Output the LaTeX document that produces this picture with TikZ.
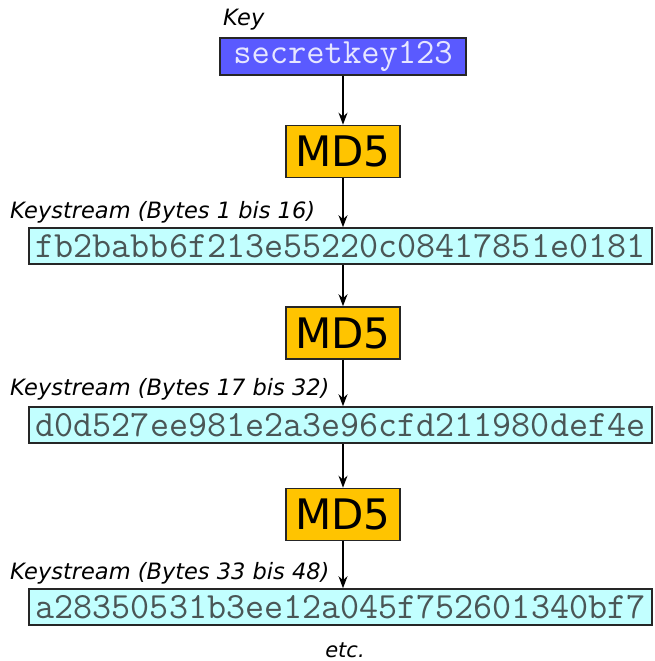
\documentclass[tikz,border=0pt]{standalone}
\usepackage{fontspec}
\setmainfont{DejaVu Sans}
\usetikzlibrary{arrows.meta}
\definecolor{keyblue}{HTML}{5A5AFF}
\definecolor{keytext}{HTML}{E6E6FF}
\definecolor{mdorange}{HTML}{FFC400}
\definecolor{streamcyan}{HTML}{C2FFFF}
\definecolor{streamtext}{HTML}{4A5656}
\begin{document}
\begin{tikzpicture}[x=1pt,y=-1pt,
  keybox/.style={draw=black!85, line width=1.6pt, fill=keyblue, text=keytext, font=\ttfamily\fontsize{35.5}{35.5}\selectfont, minimum width=246pt, minimum height=37pt, inner sep=0pt},
  mdbox/.style={draw=black!85, line width=1.6pt, fill=mdorange, font=\fontsize{42}{42}\selectfont, minimum width=114pt, minimum height=52pt, inner sep=0pt},
  streambox/.style={draw=black!85, line width=1.6pt, fill=streamcyan, text=streamtext, font=\ttfamily\fontsize{37}{37}\selectfont, minimum width=623pt, minimum height=36pt, inner sep=0pt},
  lab/.style={font=\itshape\fontsize{22.5}{22.5}\selectfont, inner sep=0pt, anchor=west},
  conn/.style={draw=black, line width=1.3pt, -{Stealth[length=12pt,width=9pt]}}
]
\useasboundingbox (0,0) rectangle (654,661);
\node[keybox] (key) at (343,56.5) {secretkey123};
\node[lab] (keylab) at (223,20) {Key};
\node[mdbox] (md1) at (343,151.5) {MD5};
\node[lab] (l1) at (10,212) {Keystream (Bytes 1 bis 16)};
\node[streambox] (s1) at (340.5,246) {fb2babb6f213e55220c08417851e0181};
\node[mdbox] (md2) at (343,333) {MD5};
\node[lab] (l2) at (10,389) {Keystream (Bytes 17 bis 32)};
\node[streambox] (s2) at (340.5,425) {d0d527ee981e2a3e96cfd211980def4e};
\node[mdbox] (md3) at (343,514.5) {MD5};
\node[lab] (l3) at (10,573) {Keystream (Bytes 33 bis 48)};
\node[streambox] (s3) at (340.5,607) {a28350531b3ee12a045f752601340bf7};
\node[font=\itshape\fontsize{21}{21}\selectfont, inner sep=0pt, anchor=base] (etc) at (345,657) {etc.};
\draw[conn] (key.south) -- (md1.north);
\draw[conn] (md1.south) -- (md1.south |- s1.north);
\draw[conn] (md1.south |- s1.south) -- (md2.north);
\draw[conn] (md2.south) -- (md2.south |- s2.north);
\draw[conn] (md2.south |- s2.south) -- (md3.north);
\draw[conn] (md3.south) -- (md3.south |- s3.north);
\end{tikzpicture}
\end{document}
